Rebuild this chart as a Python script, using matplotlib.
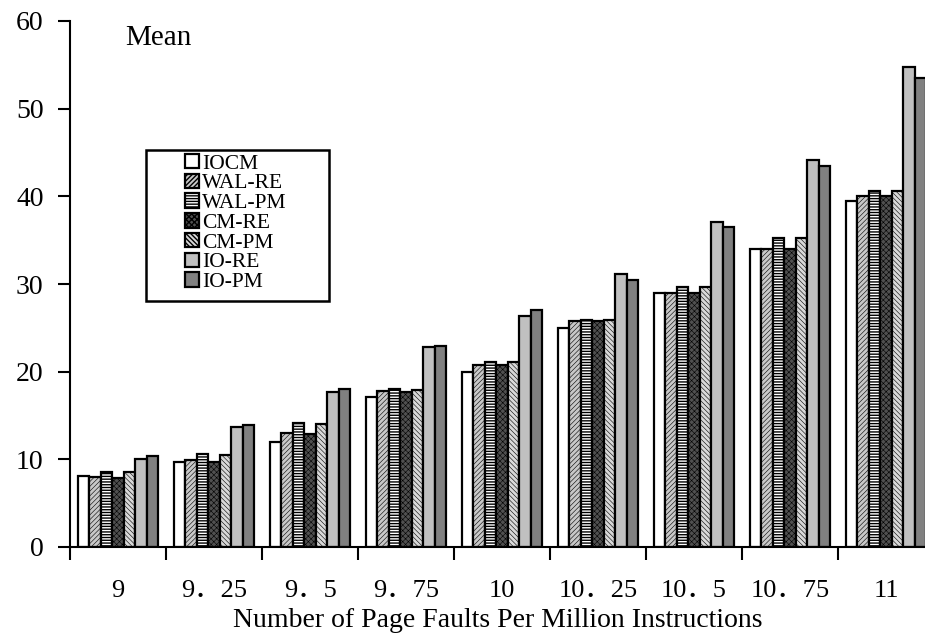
import matplotlib
matplotlib.use('Agg')
import matplotlib.pyplot as plt
from matplotlib.patches import Rectangle
import numpy as np

groups = ['9', '9．25', '9．5', '9．75', '10', '10．25', '10．5', '10．75', '11']
series = ['IOCM', 'WAL-RE', 'WAL-PM', 'CM-RE', 'CM-PM', 'IO-RE', 'IO-PM']

iocm   = [8.1, 9.7, 12.0, 17.1, 20.0, 25.0, 29.0, 34.0, 39.5]
wal_re = [8.0, 9.9, 13.0, 17.8, 20.8, 25.8, 29.0, 34.0, 40.0]
wal_pm = [8.6, 10.6, 14.2, 18.0, 21.1, 25.9, 29.7, 35.2, 40.6]
cm_re  = [7.9, 9.7, 12.9, 17.7, 20.8, 25.8, 29.0, 34.0, 40.0]
cm_pm  = [8.5, 10.5, 14.0, 17.9, 21.05, 25.9, 29.7, 35.2, 40.6]
io_re  = [10.0, 13.7, 17.7, 22.8, 26.4, 31.1, 37.1, 44.2, 54.7]
io_pm  = [10.4, 13.9, 18.0, 22.95, 27.05, 30.5, 36.5, 43.5, 53.5]
values = [iocm, wal_re, wal_pm, cm_re, cm_pm, io_re, io_pm]

# face colour, hatch, hatch line width
styles = [
    ('white',   None,         0.5),
    ('#c8c8c8', '///////',    0.4),
    ('white',   '------',     1.0),
    ('#505050', 'xxxxxx',     0.4),
    ('#d8d8d8', '\\\\\\\\\\\\\\', 0.4),
    ('#c0c0c0', None,         0.5),
    ('#808080', None,         0.5),
]

plt.rcParams['font.family'] = ['Liberation Serif', 'Noto Sans CJK SC']
plt.rcParams['hatch.color'] = 'black'

fig = plt.figure(figsize=(9.25, 6.43), dpi=100)
ax = fig.add_axes([70 / 925, 1 - 547 / 643, 1 - 70 / 925, (547 - 21) / 643])

x = np.arange(len(groups))
w = 0.12
handles = []
for j, (name, vals) in enumerate(zip(series, values)):
    fc, hatch, hlw = styles[j]
    with plt.rc_context({'hatch.linewidth': hlw}):
        b = ax.bar(x + 0.08 + w * j + w / 2, vals, w, color=fc, edgecolor='black',
                   linewidth=1.6, hatch=hatch, label=name)
    handles.append(b)

ax.set_xlim(0, 8.906)
ax.set_ylim(0, 60)
ax.spines['top'].set_visible(False)
ax.spines['right'].set_visible(False)
ax.spines['left'].set_linewidth(1.5)
ax.spines['bottom'].set_linewidth(1.5)

ax.set_yticks(np.arange(0, 61, 10))
ax.tick_params(axis='y', length=9, width=1.5, labelsize=20, pad=10)

ax.set_xticks(np.arange(0, 9))
ax.set_xticklabels([])
ax.set_xticks(x + 0.5, minor=True)
ax.set_xticklabels(groups, minor=True)
ax.tick_params(axis='x', which='major', length=9, width=1.5, direction='out')
ax.tick_params(axis='x', which='minor', length=0, labelsize=19, pad=24)

ax.set_xlabel('Number of Page Faults Per Million Instructions', fontsize=20, labelpad=4)

fig.text(125 / 925, 1 - 45 / 643, 'Mean', fontsize=21, va='baseline')

leg = fig.legend(handles=handles, loc='upper left', bbox_to_anchor=(185 / 925, 1 - 154 / 643),
                 frameon=False, fontsize=15.5, labelspacing=0.0, handlelength=0.65,
                 handleheight=0.65, handletextpad=0.15, borderpad=0, borderaxespad=0)
fig.add_artist(Rectangle((146 / 925, 1 - 301 / 643), (329 - 146) / 925, (301 - 150) / 643,
                         transform=fig.transFigure, fill=False, linewidth=1.8, edgecolor='black'))

fig.savefig('out.png', dpi=100)
